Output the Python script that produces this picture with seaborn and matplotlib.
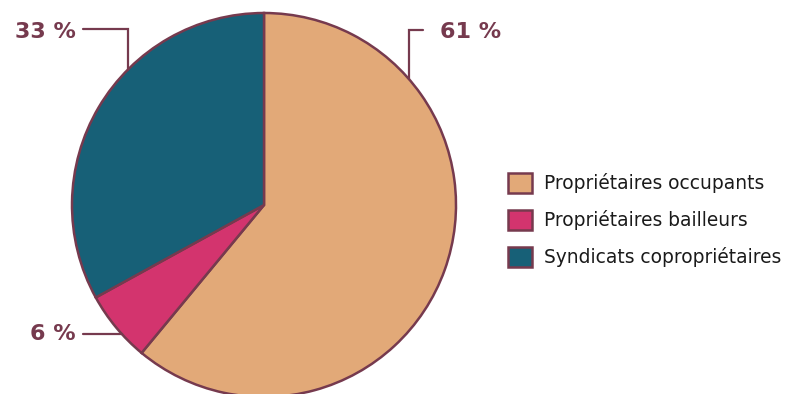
import matplotlib
matplotlib.use("Agg")
import matplotlib.pyplot as plt
import seaborn as sns

categories = ["Propriétaires occupants", "Propriétaires bailleurs", "Syndicats copropriétaires"]
values = [61, 6, 33]
labels = ["61 %", "6 %", "33 %"]
colors = ["#E2A978", "#D3346E", "#176077"]

sns.set_theme(style="white")
plt.rcParams["font.family"] = ["DejaVu Sans"]

edge = "#763A4E"
W, H = 787, 394
fig = plt.figure(figsize=(W / 100, H / 100), dpi=100)
ax = fig.add_axes([0, 0, 1, 1])
palette = sns.color_palette(colors)

cx, cy, r = 264, H - 205, 192
wedges, _ = ax.pie(values, colors=palette, startangle=90, counterclock=False,
                   center=(cx, cy), radius=r,
                   wedgeprops=dict(edgecolor=edge, linewidth=1.8))
ax.set_xlim(0, W)
ax.set_ylim(0, H)
ax.set_aspect("equal")
ax.axis("off")


def py(y):
    return H - y


lw = 1.6
ax.plot([423, 409, 409], [py(30), py(30), py(79)], color=edge, lw=lw, solid_joinstyle="miter")
ax.plot([83, 128, 128], [py(29), py(29), py(70)], color=edge, lw=lw, solid_joinstyle="miter")
ax.plot([83, 122], [py(334), py(334)], color=edge, lw=lw)

tkw = dict(color=edge, fontsize=16, fontweight="bold", va="center")
ax.text(440, py(32), labels[0], ha="left", **tkw)
ax.text(76, py(334), labels[1], ha="right", **tkw)
ax.text(76, py(32), labels[2], ha="right", **tkw)

leg = ax.legend(wedges, categories, loc="center left",
                bbox_to_anchor=(508 / W, 1 - 220 / H), bbox_transform=fig.transFigure,
                frameon=False, fontsize=13.4, handlelength=1.3, handleheight=1.3,
                labelspacing=0.9, handletextpad=0.62, borderaxespad=0, borderpad=0)
for t in leg.get_texts():
    t.set_color("#1a1a1a")

fig.savefig("out.png", dpi=100)
